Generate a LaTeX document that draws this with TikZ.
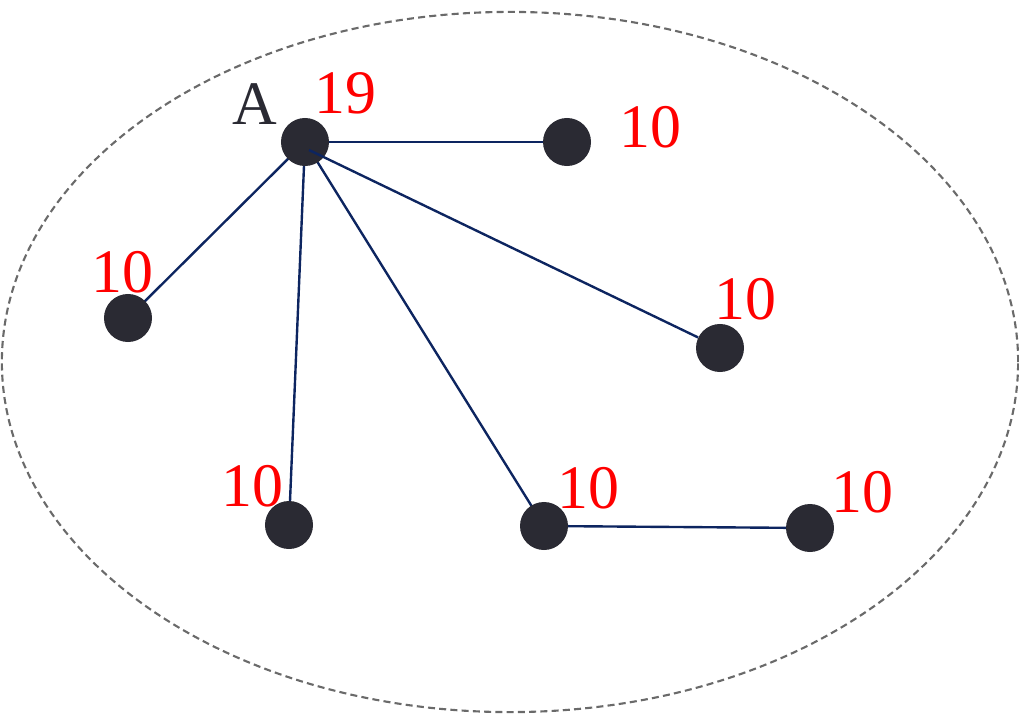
\documentclass[tikz,border=0pt]{standalone}
\usepackage{fontspec}
\setmainfont{Liberation Serif}
\definecolor{nodefill}{HTML}{2A2A33}
\definecolor{edgecol}{HTML}{0D2560}
\definecolor{ringcol}{HTML}{6A6A6A}
\begin{document}
\begin{tikzpicture}[x=0.025cm,y=-0.025cm,
  dot/.style={circle,fill=nodefill,minimum size=1.2cm,inner sep=0pt},
  lbl/.style={text=red,font=\fontsize{44}{44}\selectfont,inner sep=0pt},
  edge/.style={draw=edgecol,line width=1.7pt}]
\useasboundingbox (0,0) rectangle (1019,716);
\draw[ringcol,line width=1.5pt,dash pattern=on 5pt off 3pt] (510,362) ellipse [x radius=12.7cm,y radius=8.75cm];
\coordinate (cA) at (305,142);
\draw[edge] (cA) -- (567,142) coordinate (c1);
\draw[edge] (cA) -- (128,318) coordinate (c2);
\draw[edge] (cA) -- (289,525) coordinate (c4);
\draw[edge] (cA) -- (544,526) coordinate (c5);
\draw[edge] (544,526) -- (810,528) coordinate (c6);
\node[dot] (A) at (cA) {};
\node[dot] (n1) at (c1) {};
\node[dot] (n2) at (c2) {};
\node[dot] (n4) at (c4) {};
\node[dot] (n5) at (c5) {};
\node[dot] (n6) at (c6) {};
\node[dot] (n3) at (720,348) {};
\draw[edge] (n3) -- (309,150);
\node[lbl,text=nodefill] (lA) at (255,104) {A};
\node[lbl] (l0) at (345,93) {19};
\node[lbl] (l1) at (650,127) {10};
\node[lbl] (l2) at (122,272) {10};
\node[lbl] (l3) at (745,299) {10};
\node[lbl] (l4) at (252,486) {10};
\node[lbl] (l5) at (588,488) {10};
\node[lbl] (l6) at (862,492) {10};
\end{tikzpicture}
\end{document}
